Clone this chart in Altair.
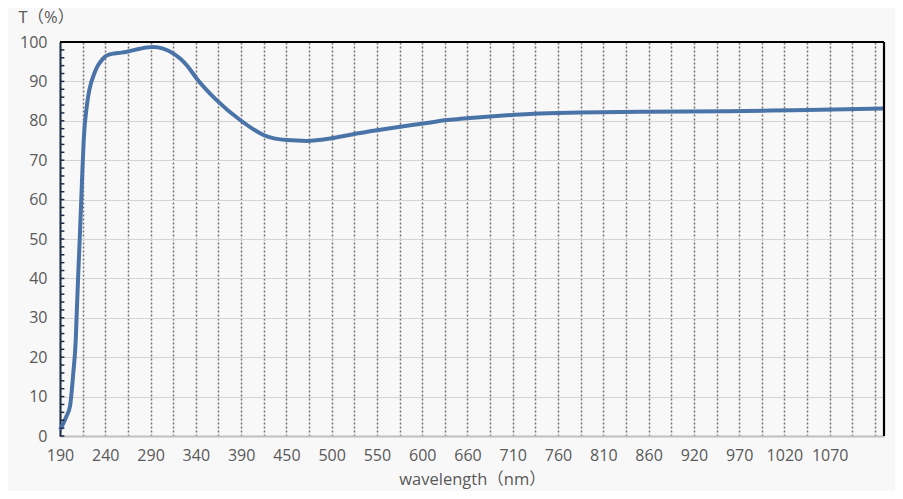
import json
import altair as alt
import pandas as pd

# ---- data ----
wavelength = [190.0, 193.4, 197.4, 201.4, 205.2, 208.0, 209.4, 210.9, 212.5, 214.0,
              215.5, 217.1, 220.5, 223.5, 229.2, 232.5, 237.7, 241.0, 246.0, 252.0,
              260.0, 267.8, 281.5, 296.4, 307.8, 319.3, 327.3, 334.9, 346.4, 369.3,
              395.9, 422.6, 449.3, 472.2, 498.9, 525.2, 552.3, 578.9, 605.2, 632.4,
              647.6, 681.9, 708.2, 731.1, 784.8, 861.5, 953.0, 1028.5, 1131.4]
transmittance = [1.6, 3.0, 5.0, 7.5, 16.0, 24.4, 32.8, 41.3, 49.7, 58.2,
                 66.7, 75.1, 83.5, 87.8, 92.0, 93.7, 95.4, 96.2, 96.8, 97.1,
                 97.3, 97.6, 98.3, 98.7, 98.3, 97.1, 95.8, 94.1, 90.7, 85.2,
                 80.2, 76.4, 75.1, 74.9, 75.5, 76.6, 77.6, 78.5, 79.3, 80.2,
                 80.5, 81.1, 81.5, 81.8, 82.1, 82.3, 82.4, 82.7, 83.1]

x_labels = ["190", "240", "290", "340", "390", "450", "500", "550", "600",
            "660", "710", "760", "810", "860", "920", "970", "1020", "1070"]
y_labels = [0, 10, 20, 30, 40, 50, 60, 70, 80, 90, 100]
y_minor_ticks = list(range(0, 101, 2))

X_MIN = 190.0
X_STEP = 51.76          # nm between labelled categories
X_MAX = 1132.0
TICK_LEN = 5.0          # inward minor tick length, in nm units

df = pd.DataFrame({"wl": wavelength, "t": transmittance})
ticks_df = pd.DataFrame({"v": y_minor_ticks})
ticks_df["x0"] = X_MIN
ticks_df["x1"] = X_MIN + TICK_LEN
border_df = pd.DataFrame({"xr": [X_MAX], "yt": [100]})

half = X_STEP / 2
n_half = int((X_MAX - X_MIN) // half)
x_values = [round(X_MIN + half * k, 3) for k in range(n_half + 1)]
label_arr = []
for k in range(n_half + 1):
    label_arr.append(x_labels[k // 2] if (k % 2 == 0 and k // 2 < len(x_labels)) else "")
label_expr = f"{json.dumps(label_arr)}[round((datum.value - {X_MIN}) / {half})]"

FONT = "Open Sans, Noto Sans CJK SC"
GRAY = "#595959"
DARK = "#1f2d44"

x_scale = alt.Scale(domain=[X_MIN, X_MAX], nice=False, zero=False)
y_scale = alt.Scale(domain=[0, 100], nice=False, zero=False)

x_axis = alt.Axis(
    values=x_values, labelExpr=label_expr, title="wavelength（nm）",
    grid=True, gridDash=[2, 2], gridColor="#707070", gridWidth=1.5,
    ticks=False, tickSize=0, domainColor="#bfbfbf", domainWidth=2,
    labelFont=FONT, labelFontSize=16, labelColor=GRAY, labelPadding=11,
    labelOverlap=False, labelFlush=False,
    titleFont=FONT, titleFontSize=16.5, titleFontWeight="normal", titleColor=GRAY,
    titlePadding=8,
)
y_axis = alt.Axis(
    values=y_labels, title="T（%）",
    grid=True, gridColor="#d4d4d4", gridWidth=1.2,
    ticks=False, tickSize=0, domainColor=DARK, domainWidth=2,
    labelFont=FONT, labelFontSize=16, labelColor=GRAY, labelPadding=13,
    labelOverlap=False, labelFlush=False,
    titleFont=FONT, titleFontSize=16.5, titleFontWeight="normal", titleColor=GRAY,
    titleAngle=0, titleAlign="left", titleBaseline="alphabetic",
    titleX=-42, titleY=-20,
)

line = alt.Chart(df).mark_line(
    color="#4a74a8", strokeWidth=4, interpolate="monotone"
).encode(
    x=alt.X("wl:Q", scale=x_scale, axis=x_axis),
    y=alt.Y("t:Q", scale=y_scale, axis=y_axis),
)

minor = alt.Chart(ticks_df).mark_rule(color=DARK, strokeWidth=1.5).encode(
    y=alt.Y("v:Q", scale=y_scale, axis=y_axis),
    x=alt.X("x0:Q", scale=x_scale, axis=x_axis),
    x2="x1:Q",
)

top_border = alt.Chart(border_df).mark_rule(color="black", strokeWidth=2.2).encode(
    y=alt.Y("yt:Q", scale=y_scale, axis=y_axis)
)
right_border = alt.Chart(border_df).mark_rule(color="black", strokeWidth=2.2).encode(
    x=alt.X("xr:Q", scale=x_scale, axis=x_axis)
)

chart = alt.layer(line, minor, top_border, right_border).properties(
    width=824, height=394,
    background="#f8f8f8",
    padding={"left": 52, "top": 34, "right": 11, "bottom": 55},
    autosize=alt.AutoSizeParams(type="none"),
).configure_view(stroke=None, fill="#f8f8f8")

chart.save("out.html", embed_options={"renderer": "svg", "actions": False})
